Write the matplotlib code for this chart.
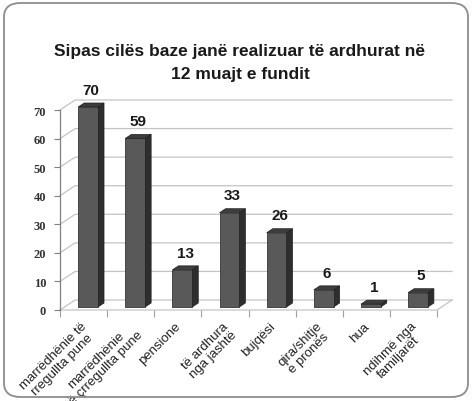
import numpy as np
import matplotlib
matplotlib.use("Agg")
import matplotlib.pyplot as plt
from matplotlib.patches import Polygon, FancyBboxPatch

# Të dhënat
categories = ["marrëdhënie të\nrregullta pune", "marrëdhënie\ntë çrregullta pune",
              "pensione", "të ardhura\nnga jashtë", "bujqësi",
              "qira/shitje\ne pronës", "hua", "ndihmë nga\nfamiljarët"]
values = [70, 59, 13, 33, 26, 6, 1, 5]
yticks = [0, 10, 20, 30, 40, 50, 60, 70]
title = "Sipas cilës baze janë realizuar të ardhurat në\n12 muajt e fundit"

# efekti 3D (thellësia në njësi të të dhënave)
DX, DY = 0.32, 3.5
f0, f1 = 0.3, 0.7
bw = 0.42

c_front = "#595959"
c_side = "#2e2e2e"
c_top = "#3d3d3d"
c_grid = "#c4c4c4"

fig = plt.figure(figsize=(4.72, 4.02), dpi=100)
ax = fig.add_axes([60 / 472, (402 - 311) / 402, 377 / 472, 200 / 402])
ax.set_xlim(0, len(values))
ax.set_ylim(0, 70)

# kuadri i jashtëm
fig.patches.append(FancyBboxPatch((4 / 472, 4 / 402), 464 / 472, 394 / 402,
                                  boxstyle="round,pad=0,rounding_size=0.035",
                                  transform=fig.transFigure, fill=False,
                                  edgecolor="#8c8c8c", linewidth=1.3))

def dp(x, y, f):
    return (x + f * DX, y + f * DY)

n = len(values)
# rrjeta në murin e pasmë
for t in yticks:
    ax.plot([0, DX, n + DX], [t, t + DY, t + DY], color=c_grid, lw=0.9,
            clip_on=False, zorder=1)
# dyshemeja
ax.plot([0, n, n + DX], [0, 0, DY], color=c_grid, lw=0.9, clip_on=False, zorder=1)

for i, v in enumerate(values):
    x0 = i + 0.5 - bw / 2
    x1 = x0 + bw
    front = [dp(x0, 0, f0), dp(x1, 0, f0), dp(x1, v, f0), dp(x0, v, f0)]
    side = [dp(x1, 0, f0), dp(x1, 0, f1), dp(x1, v, f1), dp(x1, v, f0)]
    top = [dp(x0, v, f0), dp(x1, v, f0), dp(x1, v, f1), dp(x0, v, f1)]
    for pts, c in [(side, c_side), (top, c_top), (front, c_front)]:
        ax.add_patch(Polygon(pts, closed=True, facecolor=c, edgecolor="#1e1e1e",
                             lw=0.5, clip_on=False, zorder=3))
    lx, ly = dp(i + 0.5, v, f1)
    ax.text(i + 0.5 + 0.5 * DX, ly + 2.2, str(v), ha="center", va="bottom",
            fontsize=11, fontweight="bold", color="#1a1a1a",
            family="Liberation Sans", zorder=5)
    ax.text(i + 0.44, -3.4, categories[i], rotation=45, rotation_mode="anchor",
            ha="right", va="top", multialignment="center", fontsize=9.5,
            color="#222222", family="Liberation Sans", linespacing=1.0)

for s in ["top", "right", "bottom"]:
    ax.spines[s].set_visible(False)
ax.spines["left"].set_color("#808080")
ax.spines["left"].set_linewidth(0.9)
ax.set_yticks(yticks)
ax.set_yticklabels([str(t) for t in yticks], family="Liberation Serif",
                   fontsize=9, fontweight="bold", color="#333333")
ax.tick_params(axis="y", length=4, color="#808080", pad=6)
ax.set_xticks(np.arange(n + 1))
ax.set_xticklabels([])
ax.tick_params(axis="x", length=5, color="#a0a0a0")
ax.patch.set_alpha(0)

fig.text(240 / 472, 1 - 63 / 402, title, ha="center", va="center",
         fontsize=12.5, fontweight="bold", family="Liberation Sans",
         color="#1a1a1a", linespacing=1.65)

fig.savefig("out.png", dpi=100, facecolor="white")
